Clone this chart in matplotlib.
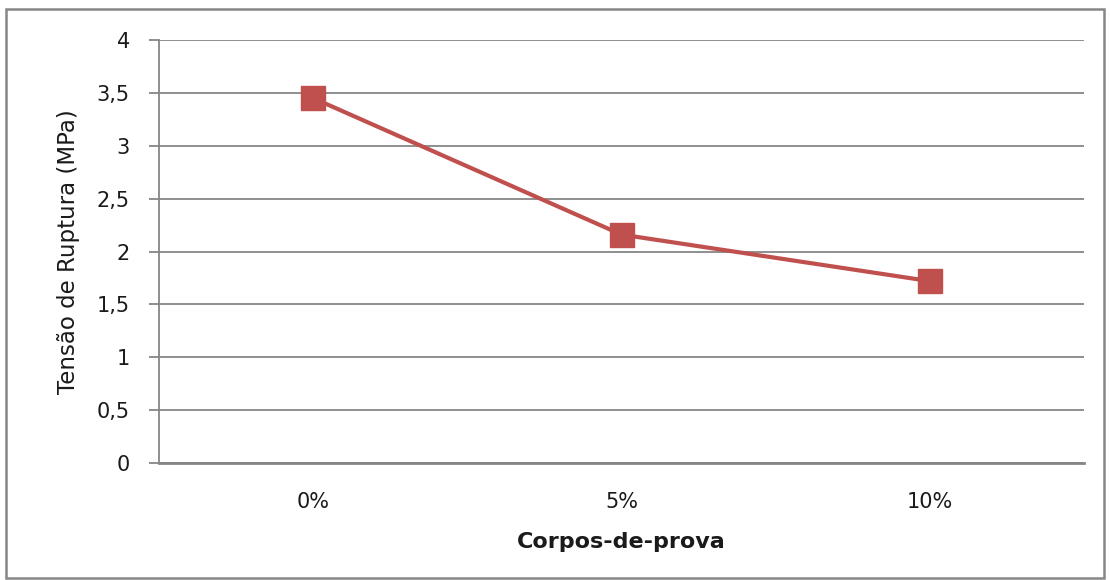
import matplotlib
matplotlib.use("Agg")
import matplotlib.pyplot as plt
from matplotlib.patches import Rectangle

categories = ["0%", "5%", "10%"]
tensao = [3.45, 2.16, 1.72]
y_ticks = [0, 0.5, 1, 1.5, 2, 2.5, 3, 3.5, 4]
y_tick_labels = ["0", "0,5", "1", "1,5", "2", "2,5", "3", "3,5", "4"]

plt.rcParams["font.family"] = ["DejaVu Sans"]

W, H = 1110, 580
fig = plt.figure(figsize=(W / 100, H / 100), dpi=100)
fig.patch.set_facecolor("white")

# outer chart frame
fig.add_artist(Rectangle((6 / W, 2 / H), 1098 / W, (H - 11) / H,
                         transform=fig.transFigure, fill=False,
                         edgecolor="#868686", linewidth=1.8))

ax = fig.add_axes([159 / W, 1 - 463 / H, (1084 - 159) / W, (463 - 40) / H])
grid_c = "#868686"
text_c = "#1a1a1a"

x = list(range(len(categories)))
ax.plot(x, tensao, color="#C0504D", linewidth=3, marker="s",
        markersize=17, markeredgecolor="#C0504D", zorder=3,
        clip_on=False)

ax.set_xlim(-0.5, len(categories) - 0.5)
ax.set_ylim(0, 4)
ax.set_yticks(y_ticks)
ax.set_yticklabels(y_tick_labels)
ax.set_xticks(x)
ax.set_xticklabels(categories)

ax.yaxis.grid(True, color=grid_c, linewidth=1.3)
ax.set_axisbelow(True)
for side in ["top", "right"]:
    ax.spines[side].set_visible(False)
ax.spines["left"].set_color(grid_c)
ax.spines["left"].set_linewidth(1.3)
ax.spines["bottom"].set_color(grid_c)
ax.spines["bottom"].set_linewidth(2)

ax.tick_params(axis="y", length=7, width=1.3, color=grid_c, pad=14,
               labelsize=15, labelcolor=text_c)
ax.tick_params(axis="x", length=0, pad=21, labelsize=15,
               labelcolor=text_c)

ax.set_ylabel("Tensão de Ruptura (MPa)", fontsize=16.5, labelpad=12,
              color=text_c)
ax.set_xlabel("Corpos-de-prova", fontsize=16, fontweight="bold",
              labelpad=14, color=text_c)

fig.savefig("out.png", dpi=100)
